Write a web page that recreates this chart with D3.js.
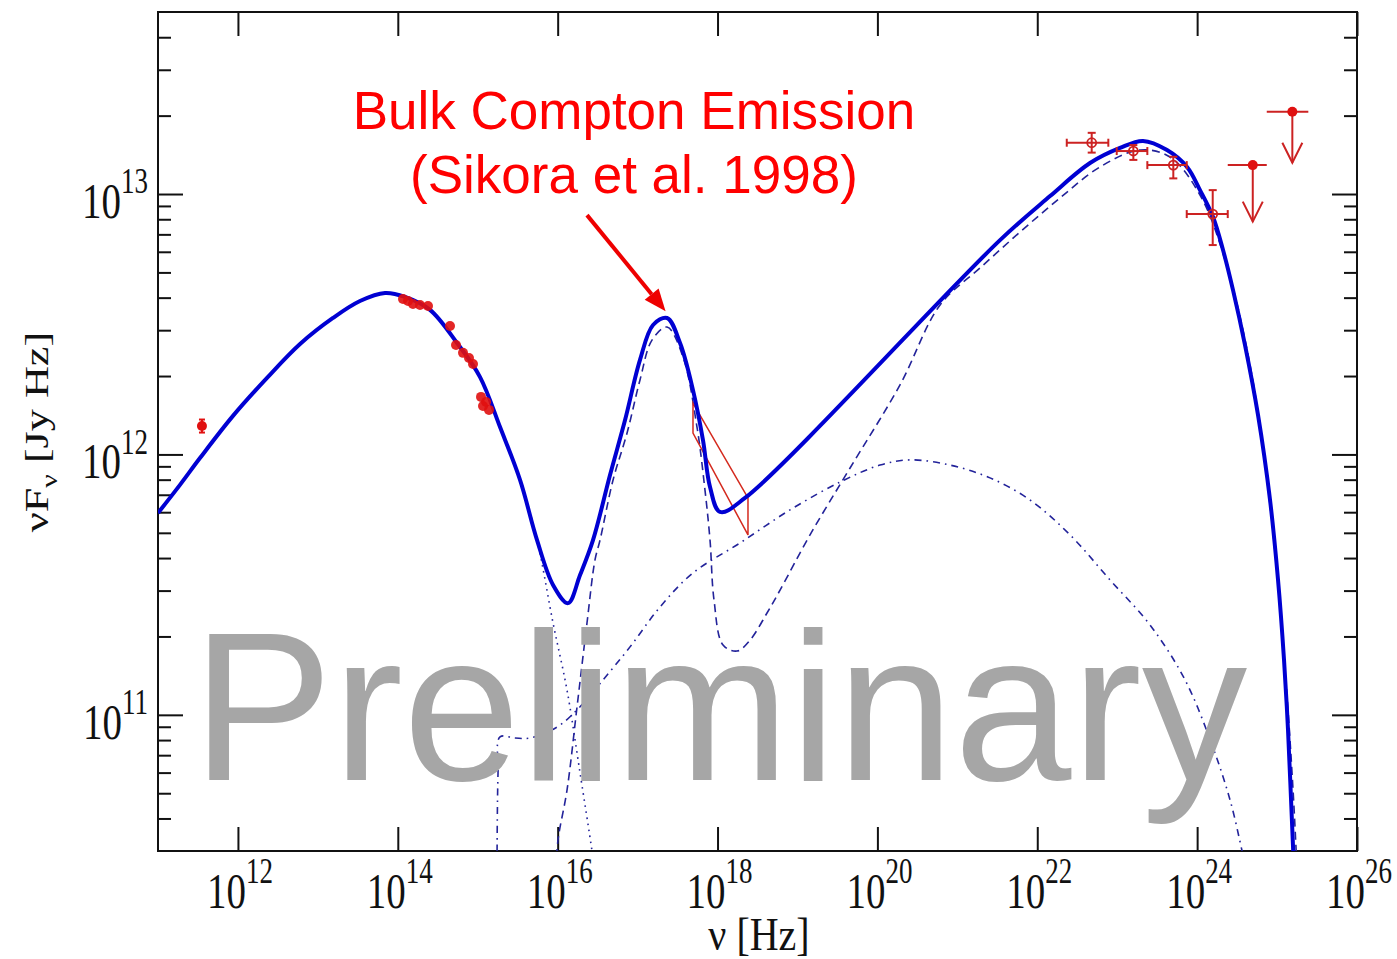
<!DOCTYPE html>
<html>
<head>
<meta charset="utf-8">
<script src="https://cdn.jsdelivr.net/npm/d3@7"></script>
<style>
  html, body { margin: 0; padding: 0; background: #fff; }
  svg { display: block; }
</style>
</head>
<body>
<svg id="chart" width="1397" height="959"></svg>
<script>
// Spectral energy distribution: all values are log10(ν / Hz), log10(νFν / Jy Hz)

// Total model
const totalModel = [
  [11.000, 11.775], [11.275, 11.883], [11.525, 11.986], [11.938, 12.148],
  [12.364, 12.294], [12.777, 12.424], [13.189, 12.524], [13.527, 12.589],
  [13.840, 12.620], [14.090, 12.605], [14.403, 12.555], [14.741, 12.428],
  [15.029, 12.297], [15.279, 12.105], [15.529, 11.902], [15.742, 11.671],
  [15.942, 11.499], [16.130, 11.429], [16.280, 11.537], [16.442, 11.671],
  [16.655, 11.921], [16.843, 12.132], [17.030, 12.363], [17.193, 12.497],
  [17.368, 12.524], [17.531, 12.428], [17.693, 12.247], [17.818, 12.055],
  [17.906, 11.875], [18.031, 11.779], [18.344, 11.833], [21.534, 12.823],
  [22.160, 12.992], [22.660, 13.119], [23.035, 13.177], [23.323, 13.204],
  [23.623, 13.169], [23.874, 13.104], [24.036, 13.015], [24.199, 12.912],
  [24.324, 12.785], [24.449, 12.631], [24.599, 12.420], [24.762, 12.151],
  [24.912, 11.825], [25.012, 11.518], [25.087, 11.211], [25.137, 10.942],
  [25.175, 10.673], [25.212, 10.404]
];

// Synchrotron component
const synchrotron = [
  [11.000, 11.775], [11.275, 11.883], [11.525, 11.986], [11.938, 12.148],
  [12.364, 12.294], [12.777, 12.424], [13.189, 12.524], [13.527, 12.589],
  [13.840, 12.620], [14.090, 12.605], [14.403, 12.555], [14.741, 12.428],
  [15.029, 12.297], [15.279, 12.105], [15.529, 11.902], [15.742, 11.671],
  [15.942, 11.353], [16.117, 11.095], [16.280, 10.777], [16.430, 10.477],
  [16.480, 10.366]
];

// Bulk Compton + external Compton component
const comptonComponent = [
  [15.980, 10.404], [16.004, 10.519], [16.117, 10.711], [16.242, 11.030],
  [16.367, 11.353], [16.467, 11.595], [16.530, 11.671], [16.693, 11.902],
  [16.868, 12.082], [17.030, 12.286], [17.180, 12.439], [17.368, 12.489],
  [17.568, 12.374], [17.743, 12.105], [17.843, 11.863], [17.906, 11.671],
  [17.956, 11.441], [18.069, 11.268], [18.244, 11.245], [18.407, 11.287],
  [18.619, 11.391], [18.782, 11.479], [19.157, 11.691], [19.658, 11.948],
  [20.283, 12.267], [20.784, 12.574], [21.284, 12.716], [21.784, 12.854],
  [22.285, 12.985], [22.785, 13.104], [23.286, 13.169], [23.661, 13.142],
  [24.036, 12.996], [24.349, 12.747], [24.662, 12.343], [24.912, 11.806],
  [25.100, 11.172], [25.200, 10.711], [25.250, 10.404]
];

// Synchrotron self-Compton component
const sscComponent = [
  [15.241, 10.404], [15.254, 10.777], [15.279, 10.915], [15.467, 10.911],
  [15.654, 10.911], [15.992, 10.953], [16.242, 11.019], [16.567, 11.134],
  [16.905, 11.261], [17.280, 11.414], [17.693, 11.545], [18.281, 11.660],
  [18.907, 11.787], [19.533, 11.894], [20.033, 11.959], [20.408, 11.979],
  [20.909, 11.959], [21.409, 11.910], [21.910, 11.825], [22.410, 11.691],
  [22.910, 11.518], [23.411, 11.345], [23.849, 11.134], [24.187, 10.884],
  [24.412, 10.673], [24.562, 10.477], [24.612, 10.404]
];

// X-ray spectrum bow-tie: [logNu, upper, lower]
const xrayBowtie = [
  [17.693, 12.197, 12.082],
  [18.381, 11.833, 11.691]
];

// Radio point: [logNu, logFlux, error]
const radioPoints = [[11.550, 12.109, 0.025]];

// Optical / UV points
const opticalPoints = [
  [14.065, 12.597], [14.128, 12.589], [14.190, 12.578], [14.278, 12.574],
  [14.378, 12.570], [14.653, 12.493], [14.728, 12.420], [14.816, 12.390],
  [14.891, 12.370], [14.941, 12.347], [15.041, 12.221], [15.104, 12.201],
  [15.141, 12.171], [15.066, 12.186]
];

// Gamma-ray detections: [logNu, logNuLo, logNuHi, logFlux, logFluxLo, logFluxHi]
const gammaPoints = [
  [22.681, 22.369, 22.889, 13.197, 13.159, 13.235],
  [23.202, 22.994, 23.377, 13.165, 13.131, 13.188],
  [23.702, 23.377, 23.870, 13.111, 13.060, 13.143],
  [24.195, 23.870, 24.383, 12.923, 12.804, 13.015]
];

// Gamma-ray upper limits: [logNu, logNuLo, logNuHi, logFlux, arrowTip]
const gammaUpperLimits = [
  [24.696, 24.383, 24.871, 13.111, 12.894],
  [25.191, 24.871, 25.391, 13.316, 13.120]
];

// Axis ticks
const xTickExponents = [12, 14, 16, 18, 20, 22, 24, 26];
const yTickExponents = [11, 12, 13];

// Annotation arrow (tail, tip) in the same log units
const annotationArrow = [[16.367, 12.919], [17.350, 12.550]];
const annotationLines = ["Bulk Compton Emission", "(Sikora et al. 1998)"];

// ---------------------------------------------------------------------------
const svg = d3.select("#chart");
const plot = { left: 158, right: 1357, top: 12, bottom: 851 };

const x = d3.scaleLog().domain([1e11, 1e26]).range([plot.left, plot.right]);
const y = d3.scaleLog().domain([3e10, 5e13]).range([plot.bottom, plot.top]);
const px = v => x(Math.pow(10, v));
const py = v => y(Math.pow(10, v));

svg.append("defs").append("clipPath").attr("id", "plotClip")
  .append("rect")
  .attr("x", plot.left).attr("y", plot.top)
  .attr("width", plot.right - plot.left).attr("height", plot.bottom - plot.top);

const serif = "'Liberation Serif', 'Times New Roman', serif";
const sans = "'Liberation Sans', Arial, sans-serif";

// Tick values
const xMajor = xTickExponents.map(e => Math.pow(10, e));
const yMajor = yTickExponents.map(e => Math.pow(10, e));
const yMinor = [];
for (let d = 10; d <= 13; d++) {
  for (let m = 2; m <= 9; m++) {
    const v = m * Math.pow(10, d);
    if (v > 3e10 && v < 5e13) yMinor.push(v);
  }
}

function styleAxis(g) {
  g.select(".domain").remove();
  g.selectAll("line").attr("stroke", "#111").attr("stroke-width", 2);
  g.selectAll("text").remove();
}

// Ticks on all four sides, pointing inward
svg.append("g").attr("transform", `translate(0,${plot.bottom})`)
  .call(d3.axisBottom(x).tickValues(xMajor).tickSize(-24)).call(styleAxis);
svg.append("g").attr("transform", `translate(0,${plot.top})`)
  .call(d3.axisTop(x).tickValues(xMajor).tickSize(-24)).call(styleAxis);
svg.append("g").attr("transform", `translate(${plot.left},0)`)
  .call(d3.axisLeft(y).tickValues(yMajor).tickSize(-25)).call(styleAxis);
svg.append("g").attr("transform", `translate(${plot.left},0)`)
  .call(d3.axisLeft(y).tickValues(yMinor).tickSize(-13)).call(styleAxis);
svg.append("g").attr("transform", `translate(${plot.right},0)`)
  .call(d3.axisRight(y).tickValues(yMajor).tickSize(-25)).call(styleAxis);
svg.append("g").attr("transform", `translate(${plot.right},0)`)
  .call(d3.axisRight(y).tickValues(yMinor).tickSize(-13)).call(styleAxis);

// Frame
svg.append("rect")
  .attr("x", plot.left).attr("y", plot.top)
  .attr("width", plot.right - plot.left).attr("height", plot.bottom - plot.top)
  .attr("fill", "none").attr("stroke", "#111").attr("stroke-width", 2);

// Power-of-ten tick labels (type is stretched vertically like the plotting program output)
const stretch = 1.3;
function powerLabel(parent, tx, ty, exponent, anchor) {
  const g = parent.append("g").attr("transform", `translate(${tx},${ty}) scale(1,${stretch})`);
  const t = g.append("text")
    .attr("font-family", serif).attr("font-size", 39).attr("fill", "#111")
    .attr("text-anchor", anchor);
  t.append("tspan").text("10");
  t.append("tspan").attr("font-size", 27).attr("dy", -19).text(exponent);
}
const labels = svg.append("g");
xTickExponents.forEach(e => powerLabel(labels, x(Math.pow(10, e)) + 2, 908, e, "middle"));
yTickExponents.forEach(e => powerLabel(labels, 148, y(Math.pow(10, e)) + 24, e, "end"));

// Axis titles
const xt = svg.append("g").attr("transform", `translate(759,950) scale(1,1.15)`)
  .append("text").attr("font-family", serif).attr("font-size", 40)
  .attr("fill", "#111").attr("text-anchor", "middle");
xt.append("tspan").text("ν [Hz]");

const yt = svg.append("g").attr("transform", `translate(48,432) rotate(-90) scale(1.3,1)`)
  .append("text").attr("font-family", serif).attr("font-size", 34)
  .attr("fill", "#111").attr("text-anchor", "middle");
yt.append("tspan").text("νF");
yt.append("tspan").attr("font-size", 23).attr("dy", 9).text("ν");
yt.append("tspan").attr("dy", -9).text(" [Jy Hz]");

// Model curves
const line = d3.line()
  .x(d => px(d[0])).y(d => py(d[1]))
  .curve(d3.curveCatmullRom.alpha(0.5));

const curves = svg.append("g").attr("clip-path", "url(#plotClip)");
const thin = "#23239a";

curves.append("path").datum(synchrotron).attr("d", line)
  .attr("fill", "none").attr("stroke", thin).attr("stroke-width", 1.6)
  .attr("stroke-dasharray", "1.6,4.5");
curves.append("path").datum(sscComponent).attr("d", line)
  .attr("fill", "none").attr("stroke", thin).attr("stroke-width", 1.6)
  .attr("stroke-dasharray", "7,5,1.6,5");
curves.append("path").datum(comptonComponent).attr("d", line)
  .attr("fill", "none").attr("stroke", thin).attr("stroke-width", 1.6)
  .attr("stroke-dasharray", "8,5");

// X-ray bow-tie
const bowPoly = [
  [xrayBowtie[0][0], xrayBowtie[0][1]], [xrayBowtie[1][0], xrayBowtie[1][1]],
  [xrayBowtie[1][0], xrayBowtie[1][2]], [xrayBowtie[0][0], xrayBowtie[0][2]]
];
curves.append("path")
  .attr("d", d3.line().x(d => px(d[0])).y(d => py(d[1]))(bowPoly) + "Z")
  .attr("fill", "none").attr("stroke", "#d42a1e").attr("stroke-width", 1.5);

// Total model (thick)
curves.append("path").datum(totalModel).attr("d", line)
  .attr("fill", "none").attr("stroke", "#0000d2").attr("stroke-width", 4)
  .attr("stroke-linejoin", "round");

// Data points
const pts = svg.append("g");
const red = "#e01010";
const darkRed = "#cc2222";

radioPoints.forEach(d => {
  const cx = px(d[0]), cy = py(d[1]);
  const y1 = py(d[1] + d[2]), y2 = py(d[1] - d[2]);
  pts.append("line").attr("x1", cx).attr("x2", cx).attr("y1", y1).attr("y2", y2)
    .attr("stroke", red).attr("stroke-width", 2);
  [y1, y2].forEach(yy => pts.append("line").attr("x1", cx - 3).attr("x2", cx + 3)
    .attr("y1", yy).attr("y2", yy).attr("stroke", red).attr("stroke-width", 2));
  pts.append("circle").attr("cx", cx).attr("cy", cy).attr("r", 5).attr("fill", red);
});

opticalPoints.forEach(d => {
  pts.append("circle").attr("cx", px(d[0])).attr("cy", py(d[1])).attr("r", 5)
    .attr("fill", red).attr("opacity", 0.9);
});

function hbar(x1, x2, yy, col) {
  pts.append("line").attr("x1", x1).attr("x2", x2).attr("y1", yy).attr("y2", yy)
    .attr("stroke", col).attr("stroke-width", 2);
  [x1, x2].forEach(xx => pts.append("line").attr("x1", xx).attr("x2", xx)
    .attr("y1", yy - 4).attr("y2", yy + 4).attr("stroke", col).attr("stroke-width", 2));
}

gammaPoints.forEach(d => {
  const cx = px(d[0]), cy = py(d[3]);
  hbar(px(d[1]), px(d[2]), cy, darkRed);
  const ya = py(d[5]), yb = py(d[4]);
  pts.append("line").attr("x1", cx).attr("x2", cx).attr("y1", ya).attr("y2", yb)
    .attr("stroke", darkRed).attr("stroke-width", 2);
  [ya, yb].forEach(yy => pts.append("line").attr("x1", cx - 4).attr("x2", cx + 4)
    .attr("y1", yy).attr("y2", yy).attr("stroke", darkRed).attr("stroke-width", 2));
  pts.append("circle").attr("cx", cx).attr("cy", cy).attr("r", 4.5)
    .attr("fill", "none").attr("stroke", darkRed).attr("stroke-width", 1.8);
});

gammaUpperLimits.forEach(d => {
  const cx = px(d[0]), cy = py(d[3]), tip = py(d[4]);
  pts.append("line").attr("x1", px(d[1])).attr("x2", px(d[2])).attr("y1", cy).attr("y2", cy)
    .attr("stroke", darkRed).attr("stroke-width", 2);
  pts.append("line").attr("x1", cx).attr("x2", cx).attr("y1", cy).attr("y2", tip)
    .attr("stroke", darkRed).attr("stroke-width", 2);
  pts.append("path")
    .attr("d", `M${cx - 10},${tip - 20} L${cx},${tip} L${cx + 10},${tip - 20}`)
    .attr("fill", "none").attr("stroke", darkRed).attr("stroke-width", 2);
  pts.append("circle").attr("cx", cx).attr("cy", cy).attr("r", 5).attr("fill", red);
});

// Watermark
svg.append("text")
  .attr("x", 192).attr("y", 780)
  .attr("font-family", sans).attr("font-size", 211)
  .attr("fill", "#a6a6a6")
  .text("Preliminary");

// Annotation
const ann = svg.append("g");
annotationLines.forEach((s, i) => {
  ann.append("text")
    .attr("x", 634).attr("y", 129 + i * 64)
    .attr("font-family", sans).attr("font-size", 53)
    .attr("fill", "#ff0000").attr("text-anchor", "middle")
    .text(s);
});
{
  const [t0, t1] = annotationArrow;
  const xa = px(t0[0]), ya = py(t0[1]), xb = px(t1[0]), yb = py(t1[1]);
  const ang = Math.atan2(yb - ya, xb - xa);
  const headLen = 22, headW = 9;
  const bx = xb - headLen * Math.cos(ang), by = yb - headLen * Math.sin(ang);
  ann.append("line").attr("x1", xa).attr("y1", ya).attr("x2", bx).attr("y2", by)
    .attr("stroke", "#ee0000").attr("stroke-width", 4);
  const nx = -Math.sin(ang), ny = Math.cos(ang);
  ann.append("path")
    .attr("d", `M${xb},${yb} L${bx + nx * headW},${by + ny * headW} L${bx - nx * headW},${by - ny * headW} Z`)
    .attr("fill", "#ee0000");
}
</script>
</body>
</html>
